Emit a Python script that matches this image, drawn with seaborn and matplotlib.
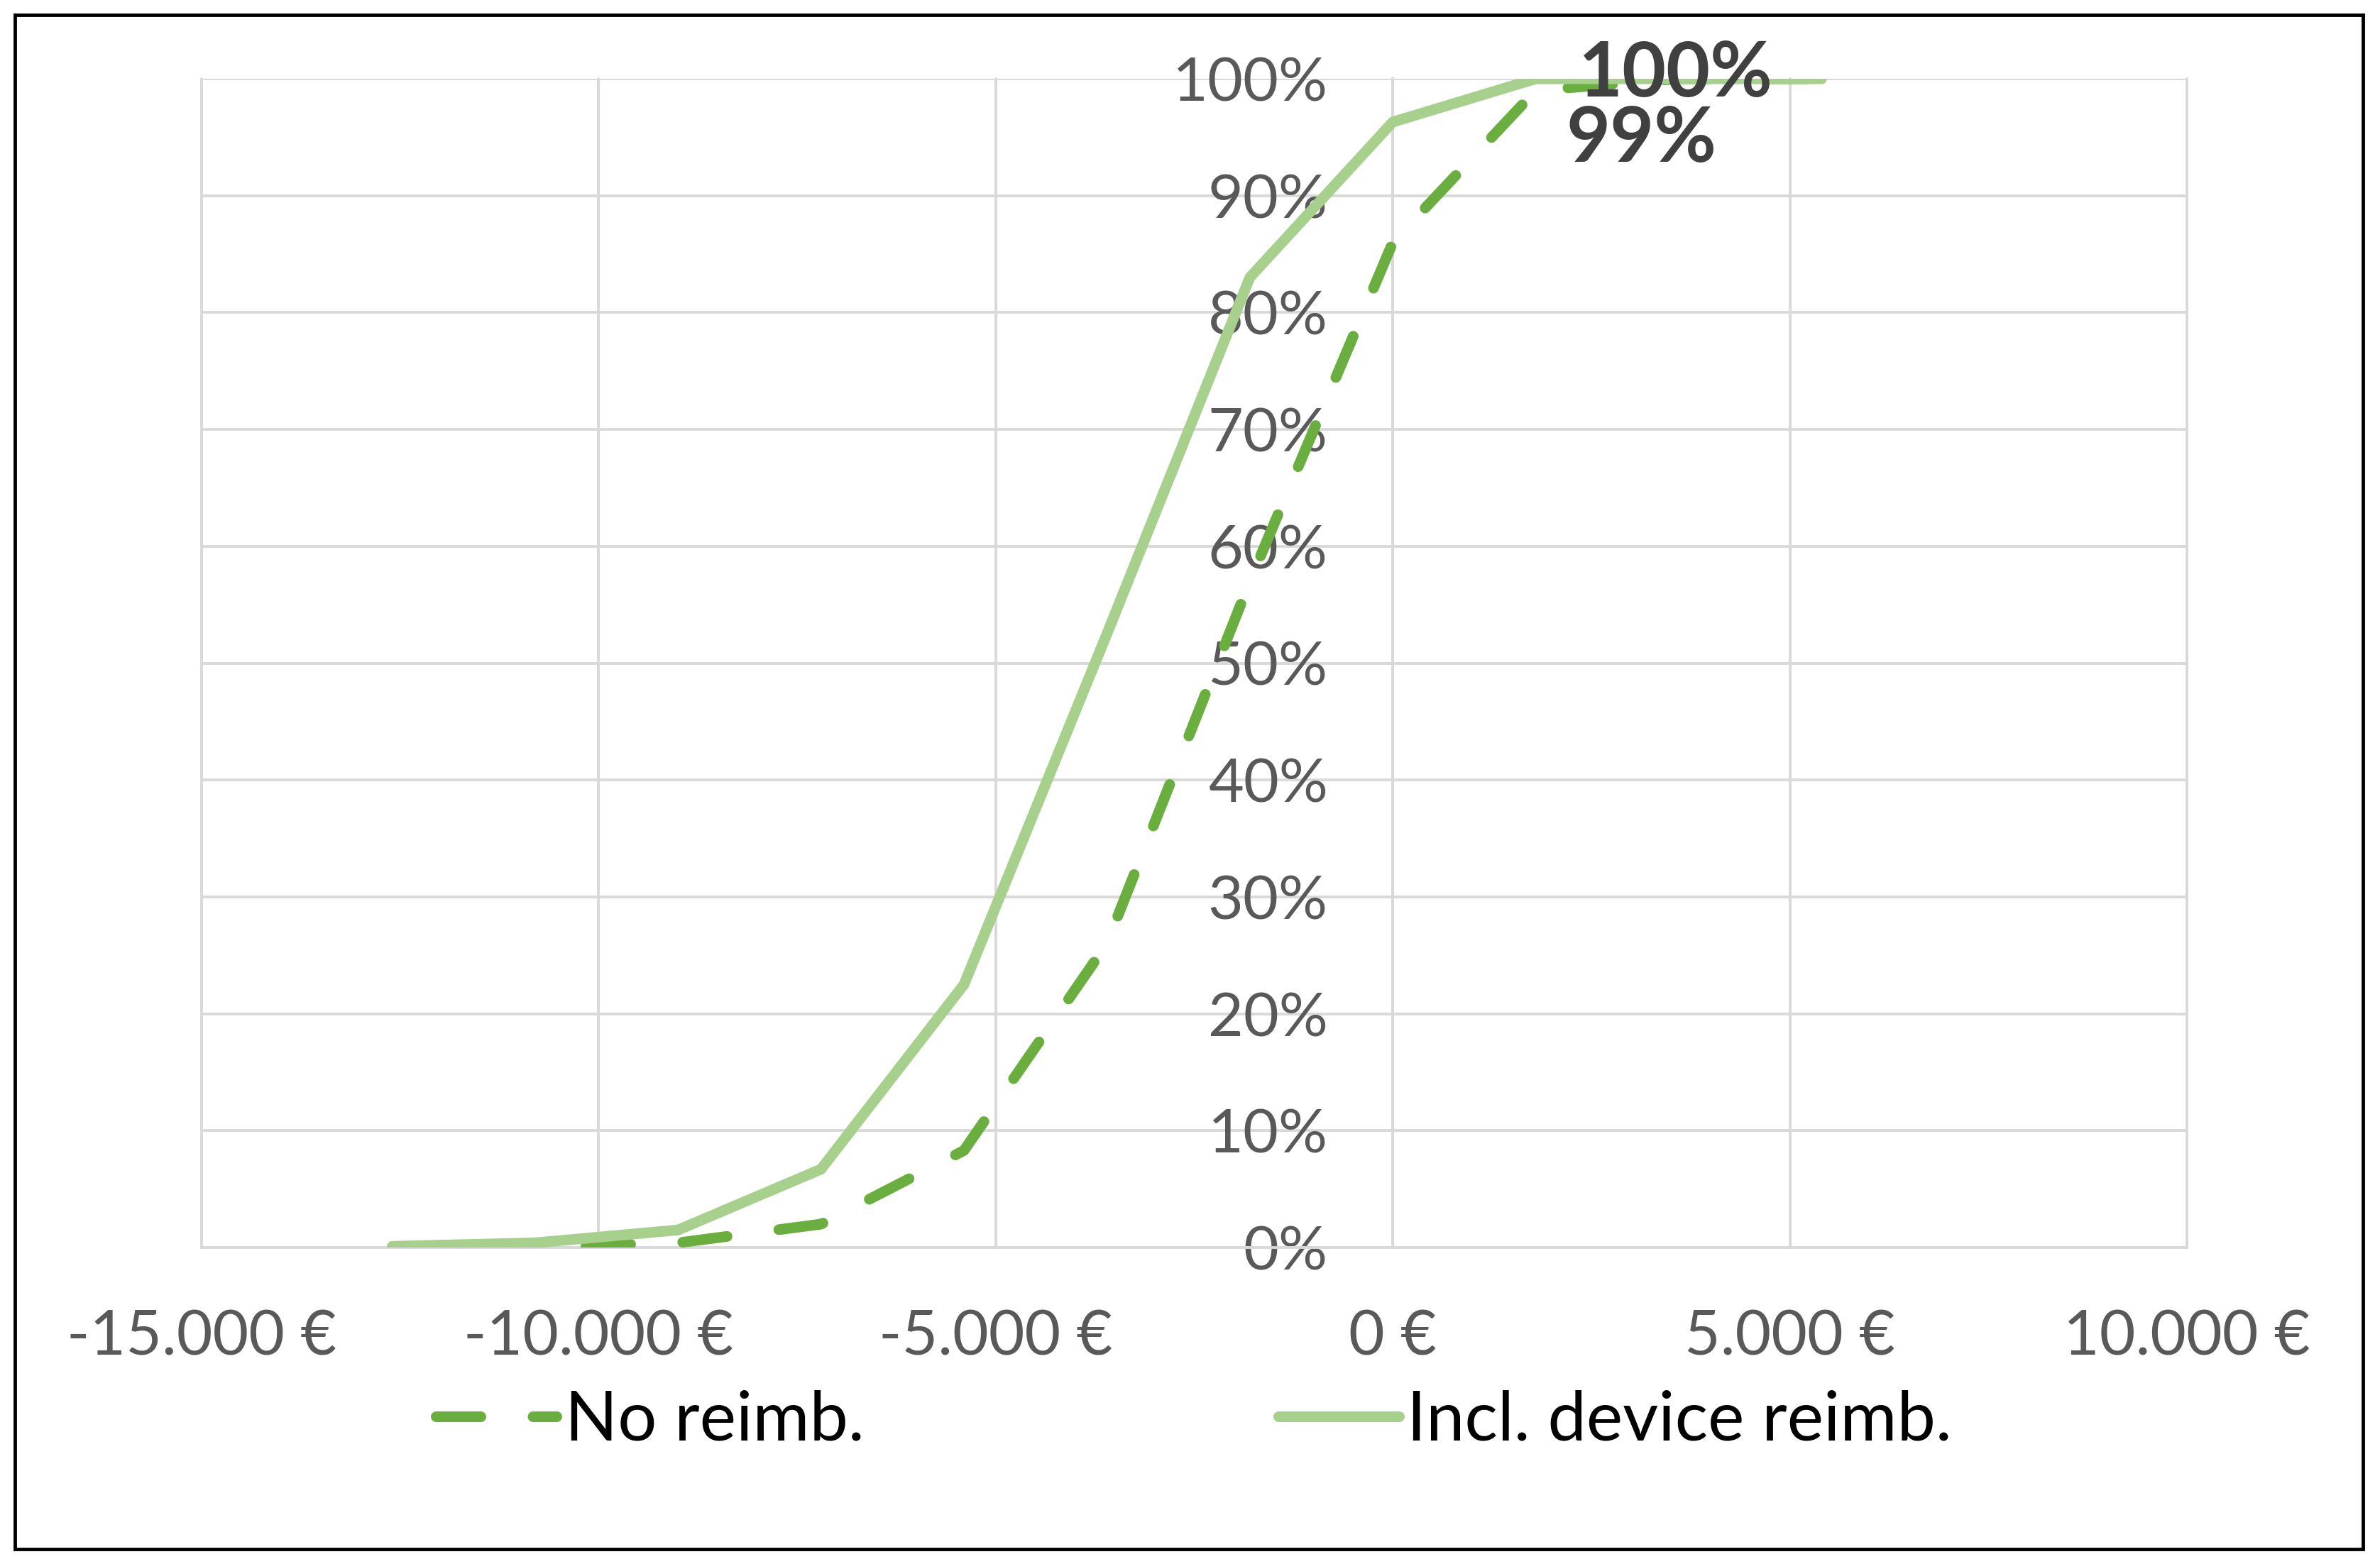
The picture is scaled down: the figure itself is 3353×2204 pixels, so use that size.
import matplotlib
matplotlib.use("Agg")
import matplotlib.pyplot as plt
from matplotlib.patches import Rectangle
import seaborn as sns
import pandas as pd

# ---- data ----
savings = [-12600, -10800, -9000, -7200, -5400, -3600, -1800, 0, 1800, 3600, 5400]
no_reimb = [0.0, 0.0, 0.4, 2.0, 8.3, 26.0, 57.0, 86.0, 99.0, 100.0, 100.0]
incl_reimb = [0.1, 0.4, 1.5, 6.7, 22.5, 52.5, 83.0, 96.3, 100.0, 100.0, 100.0]
series_names = ["No reimb.", "Incl. device reimb."]
x_ticks = [-15000, -10000, -5000, 0, 5000, 10000]
x_tick_labels = ["-15.000 €", "-10.000 €", "-5.000 €", "0 €", "5.000 €", "10.000 €"]
y_ticks = [0, 10, 20, 30, 40, 50, 60, 70, 80, 90, 100]
y_tick_labels = ["0%", "10%", "20%", "30%", "40%", "50%", "60%", "70%", "80%", "90%", "100%"]
label_x = 1800
label_no = "99%"
label_incl = "100%"

# ---- style ----
sns.set_style("white")
plt.rcParams["font.family"] = ["Lato", "DejaVu Sans"]

W, H = 3353, 2204
DPI = 100
fig = plt.figure(figsize=(W / DPI, H / DPI), dpi=DPI)
ax = fig.add_axes([284 / W, 1 - 1758 / H, (3081 - 284) / W, (1758 - 111) / H])

grid_c = "#d9d9d9"
dark_green = "#6aae3f"
light_green = "#a6d08b"
lw = 10.8

df_no = pd.DataFrame({"x": savings, "y": no_reimb})
df_in = pd.DataFrame({"x": savings, "y": incl_reimb})

sns.lineplot(data=df_no, x="x", y="y", ax=ax, color=dark_green, linewidth=lw,
             linestyle=(0, (4.2, 4.9)), dash_capstyle="round", solid_capstyle="round",
             label=series_names[0], zorder=3, estimator=None, sort=False)
sns.lineplot(data=df_in, x="x", y="y", ax=ax, color=light_green, linewidth=lw,
             solid_capstyle="round", solid_joinstyle="miter",
             label=series_names[1], zorder=4, estimator=None, sort=False)

ax.set_xlim(-15000, 10000)
ax.set_ylim(0, 100)
ax.set_xticks(x_ticks)
ax.set_xticklabels(x_tick_labels)
ax.set_yticks(y_ticks)
ax.set_yticklabels(y_tick_labels)
ax.set_xlabel("")
ax.set_ylabel("")

ax.grid(True, color=grid_c, linewidth=2.8, zorder=0)
for ln in ax.get_xgridlines() + ax.get_ygridlines():
    ln.set_clip_on(False)
ax.set_axisbelow(True)

for s in ["top", "right"]:
    ax.spines[s].set_visible(False)
ax.spines["bottom"].set_color(grid_c)
ax.spines["bottom"].set_linewidth(2.8)
ax.spines["left"].set_position(("data", 0))
ax.spines["left"].set_color(grid_c)
ax.spines["left"].set_linewidth(2.8)

tick_c = "#595959"
ax.tick_params(axis="x", length=0, pad=63, labelsize=63, labelcolor=tick_c)
ax.tick_params(axis="y", length=0, pad=66, labelsize=62, labelcolor=tick_c)

# data labels
ax.annotate(label_incl, xy=(label_x, incl_reimb[8]), xytext=(60, 6), textcoords="offset pixels",
            ha="left", va="center", fontsize=77, fontweight="bold", color="#404040", zorder=6)
ax.annotate(label_no, xy=(label_x, no_reimb[8]), xytext=(43, -70), textcoords="offset pixels",
            ha="left", va="center", fontsize=77, fontweight="bold", color="#404040", zorder=6)

# legend
ax.legend_.remove()
h, l = ax.get_legend_handles_labels()
leg = fig.legend(h, l, loc="center", bbox_to_anchor=(1682 / W, 1 - 2003 / H), ncol=2,
                 frameon=False, fontsize=70, handlelength=1.75, handletextpad=0.12,
                 columnspacing=6.0, labelcolor="black")

# outer border
fig.patches.append(Rectangle((21 / W, 1 - 2183 / H), (3329 - 21) / W, (2183 - 21) / H,
                             transform=fig.transFigure, fill=False, edgecolor="black",
                             linewidth=3.5))

fig.savefig("out.png", dpi=DPI, facecolor="white")
